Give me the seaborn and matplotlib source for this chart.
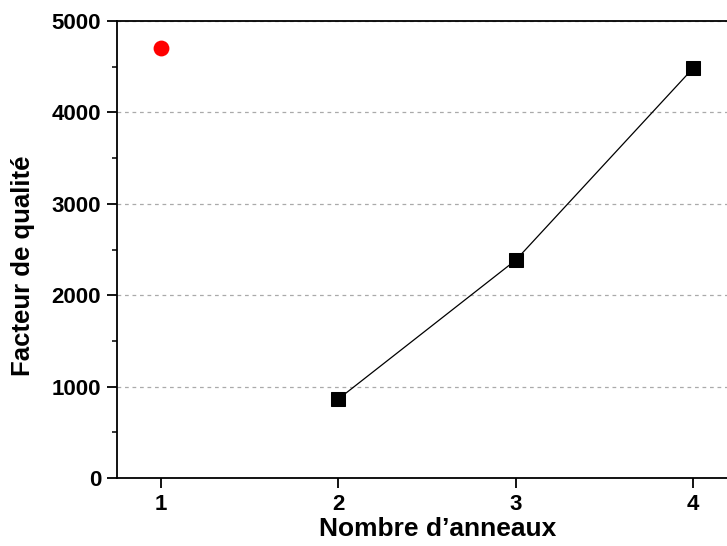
import matplotlib
matplotlib.use("Agg")
import matplotlib.pyplot as plt
from matplotlib.ticker import MultipleLocator
import seaborn as sns
import pandas as pd

rings = [2, 3, 4]
quality = [865, 2385, 4486]
ref_ring = [1]
ref_quality = [4700]

sns.set_style("white")
plt.rcParams['font.family'] = ['Liberation Sans', 'DejaVu Sans']
plt.rcParams['font.weight'] = 'bold'
plt.rcParams['text.color'] = 'black'
plt.rcParams['axes.labelcolor'] = 'black'

df = pd.DataFrame({"rings": rings, "quality": quality})
df_ref = pd.DataFrame({"rings": ref_ring, "quality": ref_quality})

fig = plt.figure(figsize=(7.27, 5.46), dpi=100)
ax = fig.add_axes([0.161, 0.1245, 0.839, 0.837])

ax.grid(axis='y', which='major', color='#aaaaaa', linestyle=(0, (3, 3)), linewidth=0.9)
ax.set_axisbelow(True)

sns.lineplot(data=df, x="rings", y="quality", ax=ax, color='black', linewidth=0.9,
             marker='s', markersize=10, markeredgecolor='black', markerfacecolor='black')
sns.scatterplot(data=df_ref, x="rings", y="quality", ax=ax, color='red', s=130,
                marker='o', edgecolor='red', linewidth=0)

ax.set_xlim(0.752, 4.19)
ax.set_ylim(0, 5000)
ax.set_xticks([1, 2, 3, 4])
ax.yaxis.set_major_locator(MultipleLocator(1000))
ax.yaxis.set_minor_locator(MultipleLocator(500))

ax.spines['right'].set_visible(False)
for s in ['left', 'bottom', 'top']:
    ax.spines[s].set_linewidth(1.3)
    ax.spines[s].set_color('black')

ax.tick_params(axis='both', which='major', direction='out', length=7.5, width=1.3,
               labelsize=16, colors='black', left=True, bottom=True, pad=4)
ax.tick_params(axis='y', which='minor', direction='out', length=3.5, width=1.3, left=True)
for lab in ax.get_xticklabels() + ax.get_yticklabels():
    lab.set_fontweight('bold')

ax.set_xlabel("Nombre d\u2019anneaux", fontsize=19, fontweight='bold', color='black')
ax.set_ylabel("Facteur de qualit\u00e9", fontsize=18.5, fontweight='bold', labelpad=12, color='black')
ax.xaxis.set_label_coords(0.526, -0.086)
ax.yaxis.label.set_y(0.464)

fig.savefig("out.png", dpi=100)
